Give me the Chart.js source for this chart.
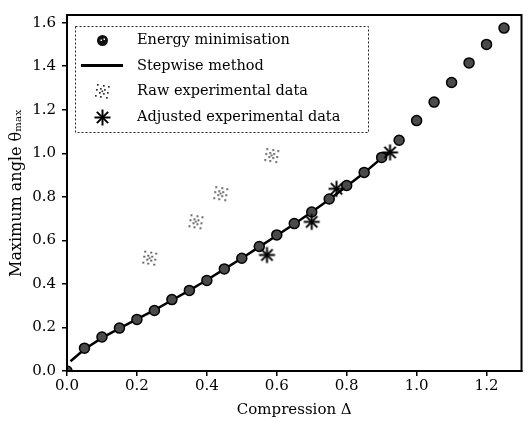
<!DOCTYPE html>
<html>
<head>
<meta charset="utf-8">
<script src="https://cdn.jsdelivr.net/npm/chart.js@4.4.0/dist/chart.umd.min.js"></script>
<style>
  body { margin: 0; background: #fff; }
  canvas { display: block; }
</style>
</head>
<body>
<canvas id="chart" width="528" height="423"></canvas>
<script>
// Energy minimisation (circles)
var energyX = [0, 0.05, 0.1, 0.15, 0.2, 0.25, 0.3, 0.35, 0.4, 0.45, 0.5, 0.55, 0.6,
    0.65, 0.7, 0.75, 0.8, 0.85, 0.9, 0.95, 1.0, 1.05, 1.1, 1.15, 1.2, 1.25];
var energyY = [0, 0.105, 0.156, 0.197, 0.237, 0.278, 0.328, 0.370, 0.416, 0.469, 0.518, 0.572, 0.625,
    0.677, 0.73, 0.79, 0.852, 0.912, 0.981, 1.06, 1.15, 1.235, 1.325, 1.415, 1.5, 1.575];

// Stepwise method (solid line)
var stepX = [0.01, 0.05, 0.1, 0.15, 0.2, 0.25, 0.3, 0.35, 0.4, 0.45, 0.5, 0.55, 0.6,
    0.65, 0.7, 0.75, 0.8, 0.85, 0.9, 0.92];
var stepY = [0.045, 0.1, 0.152, 0.196, 0.238, 0.28, 0.325, 0.37, 0.418, 0.468, 0.518, 0.57, 0.622,
    0.675, 0.73, 0.788, 0.848, 0.91, 0.978, 1.0];

// Raw experimental data
var rawX = [0.237, 0.369, 0.44, 0.586];
var rawY = [0.518, 0.685, 0.814, 0.989];

// Adjusted experimental data
var adjX = [0.572, 0.70, 0.771, 0.924];
var adjY = [0.533, 0.685, 0.837, 1.004];

var xTicks = [0, 0.2, 0.4, 0.6, 0.8, 1.0, 1.2];
var yTicks = [0, 0.2, 0.4, 0.6, 0.8, 1.0, 1.2, 1.4, 1.6];

var serif = '"DejaVu Serif", "Liberation Serif", serif';
var ink = '#000';

function pairs(xs, ys) {
    return xs.map(function (x, i) { return { x: x, y: ys[i] }; });
}

// little marker pictures
function makeIcon(w, h, draw) {
    var c = document.createElement('canvas');
    c.width = w; c.height = h;
    draw(c.getContext('2d'), w / 2, h / 2);
    return c;
}
var dotStar = makeIcon(17, 17, function (g, cx, cy) {
    g.fillStyle = '#333';
    for (var k = 0; k < 8; k++) {
        var a = k * Math.PI / 4 + 0.2;
        [3, 5.5, 7.5].forEach(function (r, j) {
            if ((k + j) % 2 === 0) return;
            g.fillRect(Math.round(cx + Math.cos(a) * r) - 1, Math.round(cy + Math.sin(a) * r) - 1, 1.7, 1.7);
        });
    }
    g.fillRect(cx - 1, cy - 1, 1.7, 1.7);
});
var solidStar = makeIcon(19, 19, function (g, cx, cy) {
    g.strokeStyle = '#000';
    g.lineWidth = 2;
    for (var k = 0; k < 4; k++) {
        var a = k * Math.PI / 4;
        g.beginPath();
        g.moveTo(cx - Math.cos(a) * 8, cy - Math.sin(a) * 8);
        g.lineTo(cx + Math.cos(a) * 8, cy + Math.sin(a) * 8);
        g.stroke();
    }
});
var dotCircle = makeIcon(13, 13, function (g, cx, cy) {
    g.fillStyle = '#111';
    g.beginPath(); g.arc(cx, cy, 5.5, 0, Math.PI * 2); g.fill();
    g.fillStyle = '#fff';
    g.fillRect(cx - 2, cy - 1, 1.5, 1.5);
    g.fillRect(cx + 1, cy - 2, 1.5, 1.5);
});
var lineIcon = makeIcon(42, 3, function (g) {
    g.fillStyle = '#000';
    g.fillRect(0, 0, 42, 3);
});
var legendIcons = [dotCircle, lineIcon, dotStar, solidStar];

// legend box drawn inside the plot, top left
var boxLegend = {
    id: 'boxLegend',
    afterDatasetsDraw: function (chart) {
        var ctx = chart.ctx, a = chart.chartArea;
        var x0 = a.left + 8, y0 = a.top + 11, w = 293, h = 106;
        ctx.save();
        ctx.fillStyle = '#fff';
        ctx.fillRect(x0, y0, w, h);
        ctx.setLineDash([2, 2]);
        ctx.strokeStyle = '#222';
        ctx.lineWidth = 1;
        ctx.strokeRect(x0 + 0.5, y0 + 0.5, w, h);
        ctx.setLineDash([]);
        ctx.font = '14.5px ' + serif;
        ctx.textBaseline = 'middle';
        ctx.fillStyle = ink;
        chart.data.datasets.forEach(function (ds, i) {
            var cy = y0 + 14 + i * 25.8;
            var ic = legendIcons[i];
            ctx.drawImage(ic, Math.round(x0 + 27 - ic.width / 2), Math.round(cy - ic.height / 2));
            ctx.fillText(ds.label, x0 + 62, cy);
        });
        ctx.restore();
    }
};

// full frame round the plot
var frame = {
    id: 'frame',
    afterDraw: function (chart) {
        var ctx = chart.ctx, a = chart.chartArea;
        ctx.save();
        ctx.strokeStyle = '#000';
        ctx.lineWidth = 2;
        ctx.strokeRect(a.left, a.top, a.right - a.left, a.bottom - a.top);
        ctx.restore();
    }
};

var chart = new Chart('chart', {
    type: 'scatter',
    data: {
        datasets: [
            {
                label: 'Energy minimisation',
                data: pairs(energyX, energyY),
                pointStyle: 'circle',
                pointRadius: 5,
                backgroundColor: '#4a4a4a',
                borderColor: '#000',
                borderWidth: 1.5,
                order: 1
            },
            {
                label: 'Stepwise method',
                data: pairs(stepX, stepY),
                showLine: true,
                pointRadius: 0,
                borderColor: '#000',
                borderWidth: 2.5,
                tension: 0,
                order: 2
            },
            {
                label: 'Raw experimental data',
                data: pairs(rawX, rawY),
                pointStyle: dotStar,
                order: 0
            },
            {
                label: 'Adjusted experimental data',
                data: pairs(adjX, adjY),
                pointStyle: solidStar,
                order: 0
            }
        ]
    },
    plugins: [boxLegend, frame],
    options: {
        responsive: false,
        animation: false,
        layout: { padding: { top: 13, right: 1, left: 0, bottom: 0 } },
        plugins: {
            legend: { display: false },
            tooltip: { enabled: false }
        },
        scales: {
            x: {
                type: 'linear',
                min: 0,
                max: 1.3,
                afterFit: function (s) { s.height = 52; },
                afterBuildTicks: function (s) { s.ticks = xTicks.map(function (v) { return { value: v }; }); },
                ticks: {
                    font: { family: serif, size: 15 },
                    color: ink,
                    padding: 1,
                    callback: function (v) { return v.toFixed(1); }
                },
                grid: { drawOnChartArea: false, color: '#000', tickLength: 5, lineWidth: 1.5 },
                border: { display: true, color: '#000', width: 2 },
                title: {
                    display: true,
                    text: 'Compression Δ',
                    font: { family: serif, size: 15 },
                    color: ink,
                    padding: { top: 0, bottom: 4 }
                }
            },
            y: {
                type: 'linear',
                min: 0,
                max: 1.635,
                afterFit: function (s) { s.width = 67; },
                afterBuildTicks: function (s) { s.ticks = yTicks.map(function (v) { return { value: v }; }); },
                ticks: {
                    font: { family: serif, size: 15 },
                    color: ink,
                    padding: 6,
                    callback: function (v) { return v.toFixed(1); }
                },
                grid: { drawOnChartArea: false, color: '#000', tickLength: 5, lineWidth: 1.5 },
                border: { display: true, color: '#000', width: 2 },
                title: {
                    display: true,
                    text: 'Maximum angle θₘₐₓ',
                    font: { family: serif, size: 16 },
                    color: ink,
                    padding: { top: 7, bottom: 7 }
                }
            }
        }
    }
});
</script>
</body>
</html>
